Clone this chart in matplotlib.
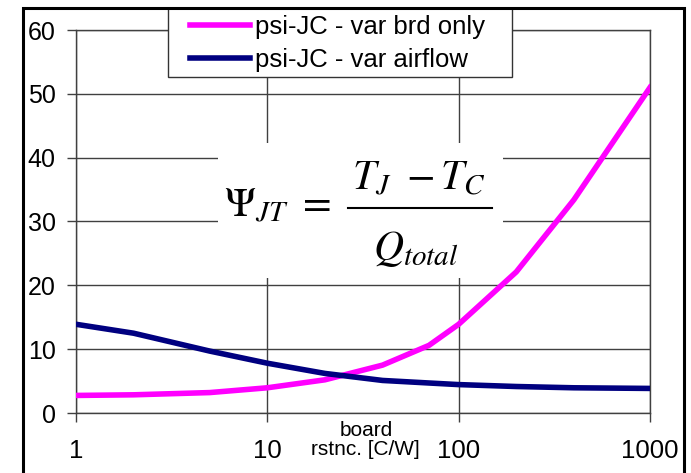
import matplotlib.pyplot as plt
from matplotlib.patches import Rectangle
from matplotlib.lines import Line2D

plt.rcParams['font.family'] = ['Liberation Sans', 'DejaVu Sans']
plt.rcParams['mathtext.fontset'] = 'stix'

# board resistance [C/W]
brd_rstnc = [1, 2, 5, 10, 20, 40, 70, 100, 200, 400, 1000]
psi_brd_only = [2.75, 2.85, 3.2, 3.95, 5.2, 7.5, 10.6, 13.9, 22.1, 33.4, 51.0]
psi_airflow = [13.9, 12.5, 9.7, 7.8, 6.2, 5.1, 4.7, 4.45, 4.15, 3.95, 3.85]
labels = ["psi-JC - var brd only", "psi-JC - var airflow"]
yticks = [0, 10, 20, 30, 40, 50, 60]
xticks = [1, 10, 100, 1000]

W, H = 691, 473
fx = lambda px: px / W          # pixel -> figure fraction
fy = lambda py: 1 - py / H

fig = plt.figure(figsize=(W / 100, H / 100), dpi=100)
ax = fig.add_axes([fx(76), fy(413), 574 / W, 383 / H])

ax.plot(brd_rstnc, psi_brd_only, color='#ff00ff', lw=4, zorder=4, label=labels[0])
ax.plot(brd_rstnc, psi_airflow, color='#000080', lw=4, zorder=4, label=labels[1])

ax.set_xscale('log')
ax.set_xlim(1, 1000)
ax.set_ylim(0, 60)
ax.set_xticks(xticks)
ax.set_xticklabels([str(v) for v in xticks])
ax.set_yticks(yticks)
ax.minorticks_off()
ax.grid(True, color='#404040', lw=1)
ax.set_axisbelow(True)
for s in ax.spines.values():
    s.set_color('#404040')
    s.set_linewidth(1)
ax.tick_params(axis='y', direction='out', length=6.5, width=1, color='#404040',
               labelsize=18, pad=8)
ax.tick_params(axis='x', direction='out', length=6.5, width=1, color='#404040',
               labelsize=18.5, pad=12)

ax.set_xlabel("board\nrstnc. [C/W]", fontsize=15, linespacing=1.0)
ax.xaxis.set_label_coords(0.505, -0.02)

# equation, on a white box that hides the grid
tf = fig.transFigure
ax.add_patch(Rectangle((fx(218), fy(278)), 285 / W, 135 / H, transform=tf,
                       facecolor='white', edgecolor='none', zorder=2))
ax.text(fx(224), fy(217), r'$\Psi_{JT}\ =$', transform=tf, ha='left',
        va='baseline', fontsize=30, zorder=3)
ax.text(fx(419), fy(190), r'$T_J\ - T_C$', transform=tf, ha='center',
        va='baseline', fontsize=30, zorder=3)
ax.add_line(Line2D([fx(348), fx(492)], [fy(208), fy(208)], transform=tf,
                   color='black', lw=1.5, zorder=3))
ax.text(fx(416), fy(260), r'$Q_{total}$', transform=tf, ha='center',
        va='baseline', fontsize=30, zorder=3)

# legend box
ax.add_patch(Rectangle((fx(168), fy(77)), 344 / W, 69 / H, transform=tf,
                       facecolor='white', edgecolor='#333333', lw=1,
                       zorder=5, clip_on=False))
leg = ax.legend(loc='upper left', bbox_to_anchor=(fx(190), fy(15)),
                bbox_transform=tf, fontsize=18.5, frameon=False,
                borderaxespad=0, borderpad=0, labelspacing=0.36,
                handlelength=2.33, handletextpad=0.2)
leg.set_zorder(6)

# outer chart border
fig.add_artist(Rectangle((fx(22.5), -0.1), 661 / W, 1.1 - 8.5 / H,
                         transform=tf, fill=False, edgecolor='black', lw=2.2))

fig.savefig("out.png", dpi=100)
